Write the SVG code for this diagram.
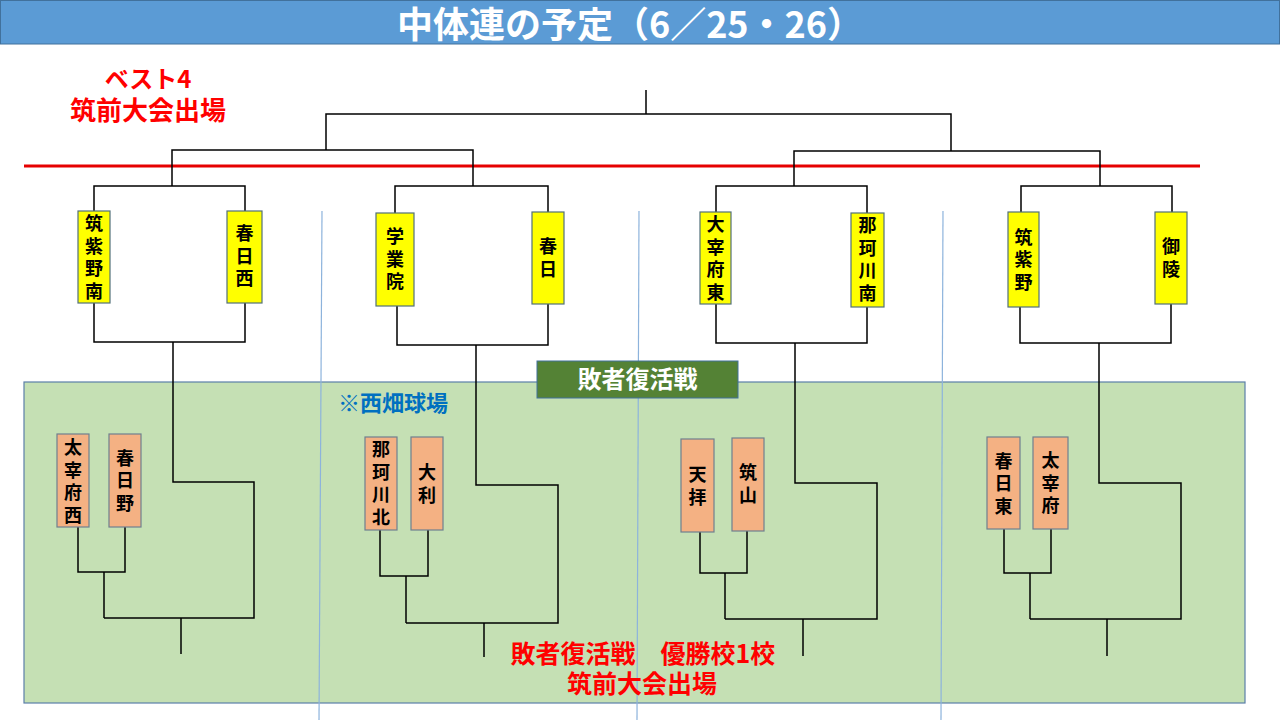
<svg xmlns="http://www.w3.org/2000/svg" width="1280" height="720" viewBox="0 0 1280 720">
<style>
.jp{font-family:"Noto Sans CJK JP","Noto Sans CJK SC",sans-serif;font-weight:700}
.name{font-size:18px;fill:#000;text-anchor:middle;writing-mode:vertical-rl;letter-spacing:4.5px}
.yb{fill:#ffff00;stroke:#52707a;stroke-width:1.2}
.ob{fill:#f4b183;stroke:#6f7f8f;stroke-width:1.2}
.ln{fill:none;stroke:#000;stroke-width:1.5}
.dv{stroke:#8db3dc;stroke-width:1.2}
.red{fill:#ff0000;text-anchor:middle}
</style>
<rect x="0" y="0" width="1280" height="720" fill="#fff"/>
<g id="title">
<rect x="0.5" y="0.5" width="1279" height="43.5" fill="#5b9bd5" stroke="#41719c" stroke-width="1"/>
<text class="jp" x="630" y="37.5" font-size="36" fill="#fff" text-anchor="middle">中体連の予定（6／25・26）</text>
</g>
<g id="best4-note">
<text class="jp red" x="148" y="88" font-size="24">ベスト4</text>
<text class="jp red" x="148" y="120" font-size="26">筑前大会出場</text>
</g>
<g id="repechage-area">
<rect x="24" y="382" width="1221" height="321" fill="#c5e0b4" stroke="#5b7fa8" stroke-width="1.2"/>
</g>
<g id="dividers">
<line class="dv" x1="322" y1="211" x2="319" y2="720"/>
<line class="dv" x1="639" y1="211" x2="637" y2="720"/>
<line class="dv" x1="943" y1="211" x2="941" y2="720"/>
</g>
<g id="best4-line">
<line x1="24" y1="166" x2="1200" y2="166" stroke="#e60000" stroke-width="3"/>
</g>
<g id="connectors">
<path class="ln" d="M646,90 V114 M326,150 V114 H951 V151 M172,186 V150 H473 V186 M794,186 V151 H1100 V186"/>
<path class="ln" d="M94,211 V186 H245 V211 M395,213 V186 H548 V212 M716,212 V186 H867 V213 M1021,212 V186 H1172 V212"/>
<path class="ln" d="M94,303 V342 H245 V303 M173,342 V482 H254 V618 H104 M104,572 V618 M181,618 V654 M78,527 V572 H125 V527"/>
<path class="ln" d="M397,306 V345 H548 V304 M476,345 V485 H558 V623 H406 M406,576 V623 M484,623 V657 M380,530 V576 H428 V530"/>
<path class="ln" d="M716,304 V343 H867 V307 M795,343 V483 H877 V619 H725 M725,573 V619 M803,619 V656 M700,532 V573 H747 V531"/>
<path class="ln" d="M1020,307 V343 H1171 V304 M1099,343 V483 H1181 V619 H1030 M1030,573 V619 M1107,619 V656 M1004,529 V573 H1051 V529"/>
</g>
<g id="chikushino-minami">
<rect class="yb" x="78" y="211" width="32" height="92"/>
<text class="jp name" x="94" y="259.5">筑紫野南</text>
</g>
<g id="kasuga-nishi">
<rect class="yb" x="227" y="211" width="35" height="92"/>
<text class="jp name" x="244.5" y="258">春日西</text>
</g>
<g id="gakugyoin">
<rect class="yb" x="376" y="213" width="38" height="93"/>
<text class="jp name" x="395" y="261">学業院</text>
</g>
<g id="kasuga">
<rect class="yb" x="532" y="212" width="32" height="92"/>
<text class="jp name" x="548" y="260">春日</text>
</g>
<g id="dazaifu-higashi">
<rect class="yb" x="700" y="212" width="31" height="92"/>
<text class="jp name" x="715.5" y="260.5">大宰府東</text>
</g>
<g id="nakagawa-minami">
<rect class="yb" x="851" y="213" width="33" height="94"/>
<text class="jp name" x="867.5" y="261.5">那珂川南</text>
</g>
<g id="chikushino">
<rect class="yb" x="1008" y="212" width="31" height="95"/>
<text class="jp name" x="1023.5" y="261.5">筑紫野</text>
</g>
<g id="goryo">
<rect class="yb" x="1155" y="212" width="32" height="92"/>
<text class="jp name" x="1171" y="260">御陵</text>
</g>
<g id="repechage-label">
<rect x="537" y="361" width="201" height="37" fill="#548235" stroke="#41719c" stroke-width="1"/>
<text class="jp" x="637.5" y="388" font-size="24" fill="#fff" text-anchor="middle">敗者復活戦</text>
</g>
<g id="venue-note">
<text class="jp" x="393" y="411" font-size="22" fill="#0070c0" text-anchor="middle">※西畑球場</text>
</g>
<g id="dazaifu-nishi">
<rect class="ob" x="57" y="434" width="32" height="93"/>
<text class="jp name" x="73" y="483.5">太宰府西</text>
</g>
<g id="kasugano">
<rect class="ob" x="109" y="434" width="32" height="93"/>
<text class="jp name" x="125" y="482.5">春日野</text>
</g>
<g id="nakagawa-kita">
<rect class="ob" x="365" y="437" width="32" height="93"/>
<text class="jp name" x="381" y="485.5">那珂川北</text>
</g>
<g id="ori">
<rect class="ob" x="411" y="437" width="32" height="93"/>
<text class="jp name" x="427" y="486">大利</text>
</g>
<g id="tenpai">
<rect class="ob" x="681" y="439" width="33" height="93"/>
<text class="jp name" x="697.5" y="488">天拝</text>
</g>
<g id="chikuzan">
<rect class="ob" x="732" y="438" width="32" height="93"/>
<text class="jp name" x="748" y="486">筑山</text>
</g>
<g id="kasuga-higashi">
<rect class="ob" x="987" y="437" width="33" height="92"/>
<text class="jp name" x="1003.5" y="485.5">春日東</text>
</g>
<g id="dazaifu">
<rect class="ob" x="1033" y="437" width="35" height="92"/>
<text class="jp name" x="1050.5" y="485">太宰府</text>
</g>
<g id="repechage-note">
<text class="jp red" x="643" y="663" font-size="25">敗者復活戦　優勝校1校</text>
<text class="jp red" x="642" y="693" font-size="25">筑前大会出場</text>
</g>
</svg>
